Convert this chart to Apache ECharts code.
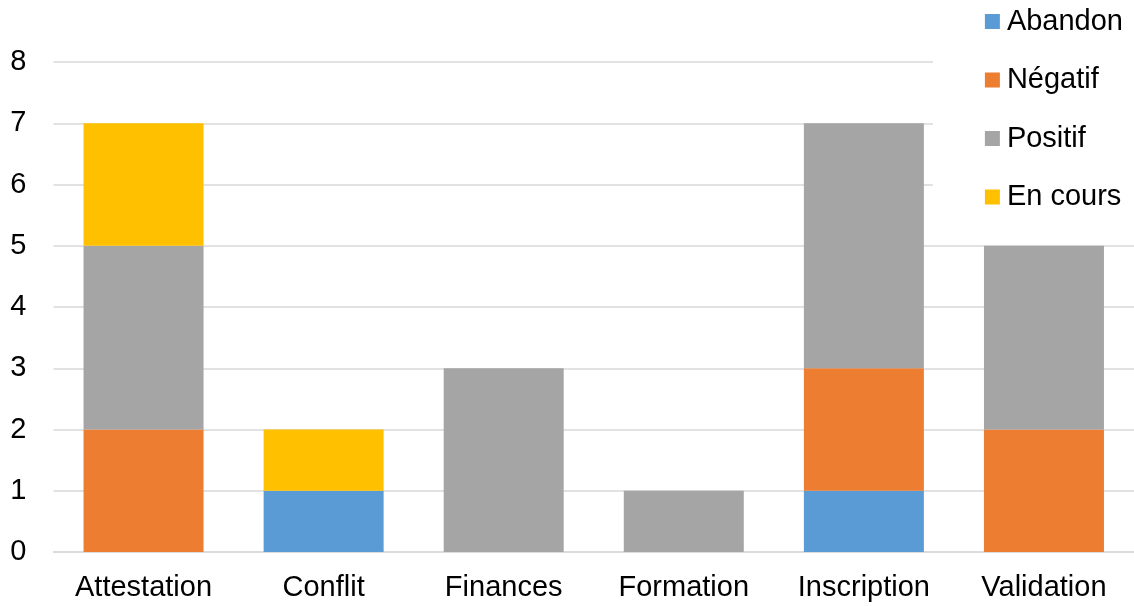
<!DOCTYPE html>
<html>
<head>
<meta charset="utf-8">
<script src="https://cdn.jsdelivr.net/npm/echarts@6/dist/echarts.min.js"></script>
<style>
  html, body { margin: 0; padding: 0; background: #fff; }
  #chart { width: 1134px; height: 606px; }
</style>
</head>
<body>
<div id="chart"></div>
<script>
let categories = ['Attestation', 'Conflit', 'Finances', 'Formation', 'Inscription', 'Validation'];
let series_names = ['Abandon', 'Négatif', 'Positif', 'En cours'];
let abandon = [0, 1, 0, 0, 1, 0];
let negatif = [2, 0, 0, 0, 2, 2];
let positif = [3, 0, 3, 1, 4, 3];
let en_cours = [2, 1, 0, 0, 0, 0];
let colors = ['#5B9BD5', '#ED7D31', '#A5A5A5', '#FFC000'];

let chart = echarts.init(document.getElementById('chart'));
let font = 'Liberation Sans, Arial, sans-serif';

function bar_series(name, data, color) {
    return {
        name: name,
        type: 'bar',
        stack: 'total',
        data: data,
        barWidth: 120,
        itemStyle: { color: color },
        emphasis: { disabled: true }
    };
}

let option = {
    animation: false,
    grid: { left: 53.5, right: 0, top: 62, bottom: 54, containLabel: false },
    legend: {
        orient: 'vertical',
        right: 0,
        top: 0,
        padding: [7, 11, 10, 52],
        backgroundColor: '#fff',
        itemWidth: 15,
        itemHeight: 15,
        itemGap: 29.5,
        icon: 'rect',
        textStyle: { fontFamily: font, fontSize: 29, color: '#000', lineHeight: 28, padding: [0, 0, 0, 2] },
        data: series_names
    },
    xAxis: {
        type: 'category',
        data: categories,
        axisTick: { show: false },
        axisLine: { lineStyle: { color: '#D9D9D9', width: 1.5 } },
        axisLabel: { fontFamily: font, fontSize: 29, color: '#000', margin: 21 }
    },
    yAxis: {
        type: 'value',
        min: 0,
        max: 8,
        interval: 1,
        axisLine: { show: false },
        axisTick: { show: false },
        splitLine: { lineStyle: { color: '#D9D9D9', width: 1.5 } },
        axisLabel: { fontFamily: font, fontSize: 29, color: '#000', margin: 27 }
    },
    series: [
        bar_series(series_names[0], abandon, colors[0]),
        bar_series(series_names[1], negatif, colors[1]),
        bar_series(series_names[2], positif, colors[2]),
        bar_series(series_names[3], en_cours, colors[3])
    ]
};

chart.setOption(option);
</script>
</body>
</html>
